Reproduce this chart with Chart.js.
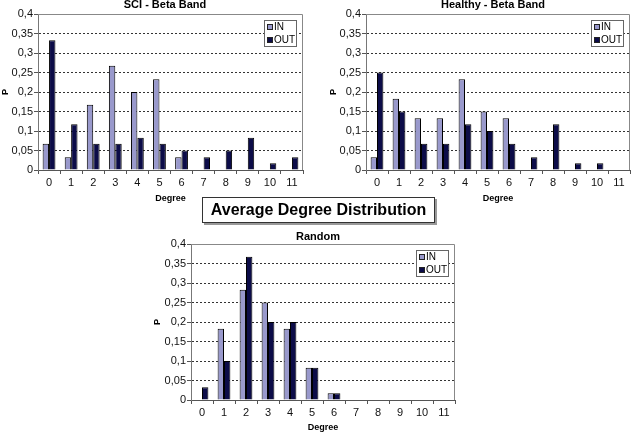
<!DOCTYPE html>
<html><head><meta charset="utf-8">
<script src="https://cdn.jsdelivr.net/npm/chart.js@4.4.0/dist/chart.umd.min.js"></script>
<style>
html,body{margin:0;padding:0;background:#fff;}
body{width:631px;height:433px;position:relative;overflow:hidden;font-family:"Liberation Sans",Arial,sans-serif;}
canvas{position:absolute;}
.t{position:absolute;font-weight:bold;font-size:11px;line-height:11px;white-space:nowrap;transform:translate(-50%,-50%);color:#000;}
#main{position:absolute;left:202px;top:197px;width:231px;height:24px;border:1px solid #333;box-shadow:2px 2px 0 #999;background:#fff;font-weight:bold;font-size:16px;line-height:24px;text-align:center;color:#000;white-space:nowrap;}
</style></head><body>
<canvas id="c1" width="315" height="204" style="left:0;top:0"></canvas>
<canvas id="c2" width="315" height="204" style="left:316px;top:0"></canvas>
<canvas id="c3" width="330" height="208" style="left:150px;top:225px"></canvas>
<div class="t" id="t1" style="left:165px;top:4px"></div>
<div class="t" id="t2" style="left:493px;top:4px"></div>
<div class="t" id="t3" style="left:318px;top:236px"></div>
<div id="main"></div>
<script>
// ---- data ----
const degrees = ['0','1','2','3','4','5','6','7','8','9','10','11'];
const yTickLabels = ['0','0,05','0,1','0,15','0,2','0,25','0,3','0,35','0,4'];
const seriesLabels = ['IN','OUT'];
const chartTitles = ['SCI - Beta Band','Healthy - Beta Band','Random'];
const mainTitle = 'Average Degree Distribution';
const xAxisTitle = 'Degree';
const yAxisTitle = 'P';

const sciIn      = [0.067,0.033,0.167,0.267,0.2,0.233,0.033,0,0,0,0,0];
const sciOut     = [0.333,0.117,0.067,0.067,0.083,0.067,0.05,0.033,0.05,0.083,0.017,0.033];
const healthyIn  = [0.033,0.183,0.133,0.133,0.233,0.15,0.133,0,0,0,0,0];
const healthyOut = [0.25,0.15,0.067,0.067,0.117,0.1,0.067,0.033,0.117,0.017,0.017,0];
const randomIn   = [0,0.183,0.283,0.25,0.183,0.083,0.017,0,0,0,0,0];
const randomOut  = [0.033,0.1,0.367,0.2,0.2,0.083,0.017,0,0,0,0,0];

// ---- styles ----
const FONT = '"Liberation Sans", Arial, sans-serif';
Chart.defaults.font.family = FONT;
const IN_COLOR = '#9999cc';
const OUT_COLOR = '#0c0c48';

document.getElementById('t1').textContent = chartTitles[0];
document.getElementById('t2').textContent = chartTitles[1];
document.getElementById('t3').textContent = chartTitles[2];
document.getElementById('main').textContent = mainTitle;

const framePlugin = {
  id: 'frame',
  afterDraw(chart) {
    const a = chart.chartArea, ctx = chart.ctx;
    ctx.save();
    ctx.strokeStyle = '#888';
    ctx.lineWidth = 1;
    ctx.beginPath();
    ctx.moveTo(a.left, Math.round(a.top) + 0.5);
    ctx.lineTo(Math.round(a.right) - 0.5, Math.round(a.top) + 0.5);
    ctx.lineTo(Math.round(a.right) - 0.5, a.bottom);
    ctx.stroke();
    ctx.restore();
  }
};

const boxLegendPlugin = {
  id: 'boxLegend',
  afterDraw(chart) {
    const a = chart.chartArea, ctx = chart.ctx;
    const w = 32, h = 26;
    const x = Math.round(a.right - 7 - w) + 0.5, y = Math.round(a.top + 6) + 0.5;
    ctx.save();
    ctx.fillStyle = '#fff';
    ctx.fillRect(x, y, w, h);
    ctx.strokeStyle = '#666';
    ctx.lineWidth = 1;
    ctx.strokeRect(x, y, w, h);
    chart.data.datasets.forEach((ds, i) => {
      const cy = Math.round(y + 6 + i * 13.4);
      ctx.fillStyle = ds.backgroundColor;
      ctx.fillRect(x + 3, cy - 2.5, 5, 5);
      ctx.strokeStyle = '#222';
      ctx.strokeRect(x + 3, cy - 2.5, 5, 5);
      ctx.fillStyle = '#000';
      ctx.font = '10px ' + FONT;
      ctx.textBaseline = 'middle';
      ctx.textAlign = 'left';
      ctx.fillText(ds.label, x + 9.5, cy + 0.5);
    });
    ctx.restore();
  }
};

function makeChart(id, inVals, outVals, L) {
  return new Chart(document.getElementById(id), {
    type: 'bar',
    data: {
      labels: degrees,
      datasets: [
        {label: seriesLabels[0], data: inVals, backgroundColor: IN_COLOR, borderColor: '#000', borderWidth: 1, categoryPercentage: 0.58, barPercentage: 1},
        {label: seriesLabels[1], data: outVals, backgroundColor: OUT_COLOR, borderColor: '#000', borderWidth: 1, categoryPercentage: 0.58, barPercentage: 1}
      ]
    },
    options: {
      responsive: false,
      animation: false,
      layout: {padding: {left: L.padL, right: L.padR, top: L.padT, bottom: 0}},
      plugins: {legend: {display: false}, title: {display: false}, tooltip: {enabled: false}},
      scales: {
        x: {
          offset: true,
          grid: {display: true, drawOnChartArea: false, drawTicks: true, tickLength: 4, tickColor: '#555', offset: true},
          border: {display: true, color: '#555'},
          ticks: {color: '#111', font: {size: 11}, padding: 2, autoSkip: false, maxRotation: 0},
          title: {display: true, text: xAxisTitle, color: '#000', font: {size: 9, weight: 'bold'}, padding: 0},
          afterFit(s) { s.height = L.xH; }
        },
        y: {
          min: 0, max: 0.4,
          ticks: {stepSize: 0.05, color: '#111', font: {size: 11}, padding: 1,
                  callback: (v, i) => yTickLabels[i]},
          grid: {
            color: (c) => (c.index === 0 || c.index === yTickLabels.length - 1) ? 'rgba(0,0,0,0)' : '#333',
            tickColor: '#555', tickLength: 4, lineWidth: 1
          },
          border: {display: true, color: '#777', dash: [2, 2]},
          title: {display: true, text: yAxisTitle, color: '#000', font: {size: 9, weight: 'bold'}, padding: 0},
          afterFit(s) { s.width = L.yW; }
        }
      }
    },
    plugins: [framePlugin, boxLegendPlugin]
  });
}

makeChart('c1', sciIn, sciOut, {padL: 0, yW: 38, padR: 12, padT: 14, xH: 34});
makeChart('c2', healthyIn, healthyOut, {padL: 12, yW: 38, padR: 1, padT: 14, xH: 34});
makeChart('c3', randomIn, randomOut, {padL: 2, yW: 39, padR: 25, padT: 19, xH: 33});
</script>
</body></html>
